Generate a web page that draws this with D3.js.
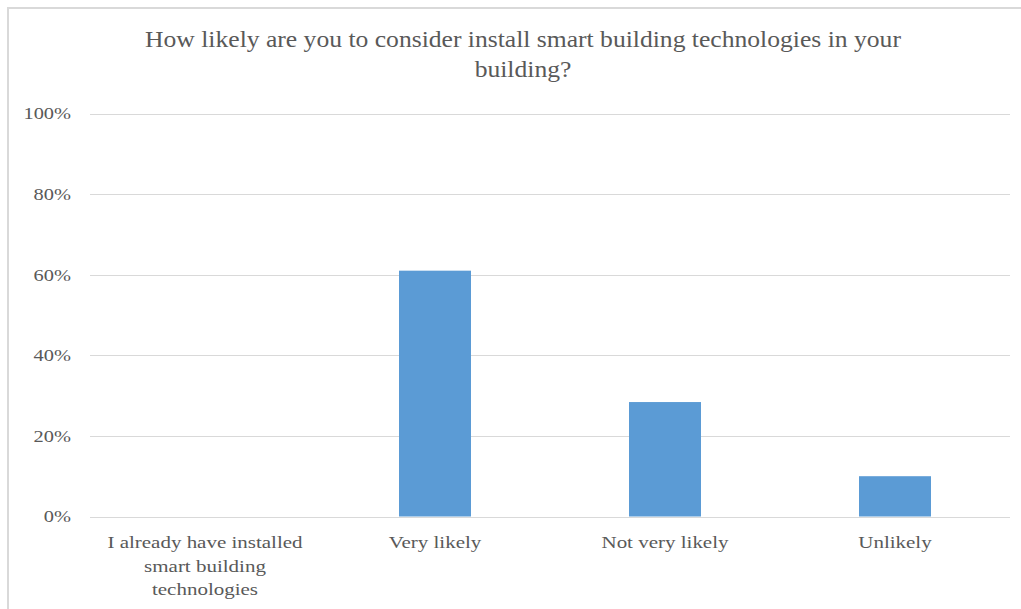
<!DOCTYPE html>
<html>
<head>
<meta charset="utf-8">
<script src="https://cdn.jsdelivr.net/npm/d3@7/dist/d3.min.js"></script>
<style>
  html, body { margin: 0; padding: 0; background: #fff; }
  svg { display: block; }
  text { font-family: "Liberation Serif", "Times New Roman", serif; fill: #595959; }
</style>
</head>
<body>
<svg id="chart" width="1021" height="609"></svg>
<script>
// Survey answers and their shares
const categories = [
  ["I already have installed", "smart building", "technologies"],
  ["Very likely"],
  ["Not very likely"],
  ["Unlikely"]
];
const categoryKeys = ["I already have installed smart building technologies", "Very likely", "Not very likely", "Unlikely"];
const shares = [0, 0.61, 0.284, 0.10];
const yTicks = [0, 0.2, 0.4, 0.6, 0.8, 1.0];
const titleLines = [
  "How likely are you to consider install smart building technologies in your",
  "building?"
];

const svg = d3.select("#chart");
const W = 1021, H = 609;
const plot = { left: 90, right: 1010, top: 113.5, bottom: 516.5 };

// the text is set slightly wide
const stretch = (cx, sx) => `translate(${cx},0) scale(${sx},1) translate(${-cx},0)`;

// chart frame (top and left edges visible)
svg.append("path")
  .attr("d", `M8,${H} L8,8 L${W},8`)
  .attr("fill", "none")
  .attr("stroke", "#d9d9d9")
  .attr("stroke-width", 2);

// title
const titleX = 523;
const title = svg.append("text")
  .attr("x", titleX)
  .attr("text-anchor", "middle")
  .attr("transform", stretch(titleX, 1.114))
  .style("font-size", "23px");
titleLines.forEach((line, i) => {
  title.append("tspan").attr("x", titleX).attr("y", 47.5 + i * 29.5).text(line);
});

const x = d3.scaleBand()
  .domain(categoryKeys)
  .range([plot.left, plot.right])
  .paddingInner(0.687)
  .paddingOuter(0.3435);

const y = d3.scaleLinear()
  .domain([0, 1])
  .range([plot.bottom, plot.top]);

// horizontal gridlines
svg.append("g")
  .selectAll("line")
  .data(yTicks)
  .join("line")
  .attr("x1", plot.left)
  .attr("x2", plot.right)
  .attr("y1", d => Math.round(y(d)) + 0.5)
  .attr("y2", d => Math.round(y(d)) + 0.5)
  .attr("stroke", "#d9d9d9")
  .attr("stroke-width", 1);

// y axis labels
const yAxis = d3.axisLeft(y)
  .tickValues(yTicks)
  .tickFormat(d3.format(".0%"))
  .tickSize(0)
  .tickPadding(19);
const yg = svg.append("g")
  .attr("transform", `translate(${plot.left},0)`)
  .call(yAxis);
yg.select(".domain").remove();
yg.selectAll("text")
  .attr("x", 0)
  .attr("transform", "translate(-19,0) scale(1.2,1)")
  .style("font-size", "17px")
  .style("font-family", "'Liberation Serif', serif")
  .attr("fill", "#595959");

// bars
svg.append("g")
  .selectAll("rect")
  .data(categoryKeys.map((k, i) => ({ key: k, value: shares[i] })))
  .join("rect")
  .attr("x", d => x(d.key))
  .attr("width", x.bandwidth())
  .attr("y", d => y(d.value))
  .attr("height", d => y(0) - y(d.value))
  .attr("fill", "#5b9bd5");

// 0% baseline over the bars
svg.append("line")
  .attr("x1", plot.left).attr("x2", plot.right)
  .attr("y1", Math.round(y(0)) + 0.5).attr("y2", Math.round(y(0)) + 0.5)
  .attr("stroke", "#d9d9d9");

// category labels
const cat = svg.append("g")
  .selectAll("text")
  .data(categoryKeys.map((k, i) => ({ key: k, lines: categories[i] })))
  .join("text")
  .attr("text-anchor", "middle")
  .style("font-size", "17.5px");
cat.each(function(d) {
  const t = d3.select(this);
  const cx = x(d.key) + x.bandwidth() / 2;
  t.attr("transform", stretch(cx, 1.2));
  d.lines.forEach((line, i) => {
    t.append("tspan").attr("x", cx).attr("y", 548.5 + i * 23.5).text(line);
  });
});
</script>
</body>
</html>
